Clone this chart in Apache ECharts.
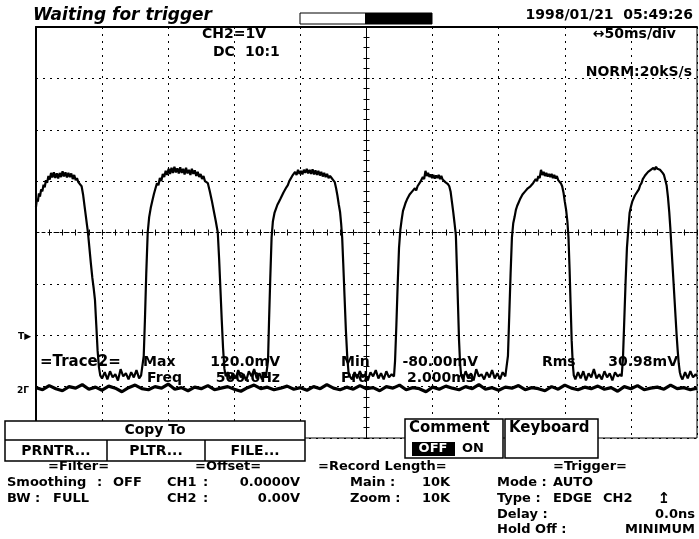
<!DOCTYPE html>
<html>
<head>
<meta charset="utf-8">
<script src="https://cdn.jsdelivr.net/npm/echarts@6/dist/echarts.min.js"></script>
<style>
html, body { margin: 0; padding: 0; background: #fff; }
#scope { width: 699px; height: 539px; }
</style>
</head>
<body>
<div id="scope"></div>
<script>
// screen: 10 div x 50 ms, 8 div x 1 V (CH2)
var timeRange = [-250, 250];
var msPerDiv = 50;
var voltRange = [-4, 4];
var voltPerDiv = 1;

// CH2 trace, [ms, div]
var ch2Trace = [
    // pulse 1 (cut at left edge)
    [-250.0, 0.50], [-249.3, 0.66], [-248.6, 0.60], [-247.8, 0.76], [-247.0, 0.70], [-246.1, 0.84], [-245.2, 0.80],
    [-244.3, 0.93], [-243.4, 0.88], [-242.5, 1.02], [-241.6, 0.97], [-240.6, 1.10], [-239.6, 1.03], [-238.6, 1.16],
    [-237.6, 1.07], [-236.5, 1.17], [-235.4, 1.06], [-234.3, 1.15], [-233.2, 1.05], [-232.1, 1.16], [-231.0, 1.08],
    [-229.9, 1.19], [-228.8, 1.09], [-227.7, 1.17], [-226.6, 1.07], [-225.5, 1.16], [-224.4, 1.08], [-223.3, 1.15],
    [-222.2, 1.04], [-221.1, 1.12], [-220.0, 1.02], [-219.0, 1.06], [-218.0, 0.98], [-216.7, 1.00], [-215.5, 0.90],
    [-214.4, 0.74], [-213.3, 0.52], [-212.2, 0.30], [-211.4, 0.14], [-210.7, 0.00], [-209.6, -0.30], [-208.5, -0.60],
    [-207.4, -0.88], [-206.3, -1.10], [-205.4, -1.31], [-204.4, -1.80], [-203.4, -2.30], [-202.4, -2.62], [-201.4, -2.78],
    [-200.0, -2.84], [-198.0, -2.72], [-196.0, -2.86], [-194.0, -2.70], [-192.0, -2.82], [-190.0, -2.76], [-188.0, -2.88],
    [-186.0, -2.66], [-184.0, -2.80], [-182.0, -2.74], [-180.0, -2.86], [-178.0, -2.72], [-176.0, -2.82], [-174.0, -2.68],
    [-172.0, -2.84], [-170.5, -2.78],
    // pulse 2
    [-169.5, -2.75], [-168.5, -2.40], [-167.6, -1.70], [-166.6, -0.80], [-165.5, 0.00], [-164.4, 0.30], [-163.2, 0.48],
    [-162.0, 0.62], [-160.8, 0.75], [-159.6, 0.86], [-158.5, 0.96], [-157.4, 0.92], [-156.3, 1.06], [-155.2, 1.00],
    [-154.1, 1.14], [-153.0, 1.08], [-151.9, 1.20], [-150.8, 1.12], [-149.7, 1.24], [-148.6, 1.14], [-147.5, 1.26],
    [-146.4, 1.16], [-145.3, 1.28], [-144.2, 1.17], [-143.1, 1.25], [-142.0, 1.15], [-140.9, 1.27], [-139.8, 1.16],
    [-138.7, 1.24], [-137.6, 1.13], [-136.5, 1.26], [-135.4, 1.15], [-134.3, 1.22], [-133.2, 1.12], [-132.1, 1.24],
    [-131.0, 1.14], [-129.9, 1.21], [-128.8, 1.10], [-127.7, 1.18], [-126.6, 1.08], [-125.5, 1.14], [-124.4, 1.04],
    [-123.3, 1.10], [-122.2, 1.00], [-121.1, 1.02], [-120.0, 0.96], [-118.5, 0.80], [-117.0, 0.62], [-115.5, 0.42],
    [-114.0, 0.22], [-112.5, 0.00], [-111.5, -0.50], [-110.5, -1.10], [-109.5, -1.70], [-108.5, -2.25], [-107.5, -2.65],
    [-106.5, -2.80], [-105.0, -2.72], [-103.0, -2.86], [-101.0, -2.74], [-99.0, -2.84], [-97.0, -2.68], [-95.0, -2.82],
    [-93.0, -2.76], [-91.0, -2.88], [-89.0, -2.70], [-87.0, -2.80], [-85.0, -2.66], [-83.0, -2.84], [-81.0, -2.74],
    [-79.0, -2.86], [-77.0, -2.72], [-76.0, -2.80],
    // pulse 3
    [-75.2, -2.78], [-74.5, -2.50], [-73.7, -1.70], [-72.8, -0.90], [-71.8, -0.10], [-70.8, 0.22], [-69.6, 0.38],
    [-68.5, 0.46], [-67.4, 0.54], [-66.2, 0.60], [-65.0, 0.66], [-63.9, 0.68], [-62.8, 0.78], [-61.7, 0.76],
    [-60.6, 0.88], [-59.5, 0.92], [-58.4, 1.00], [-57.3, 0.98], [-56.2, 1.10], [-55.1, 1.08], [-54.0, 1.18],
    [-52.9, 1.12], [-51.8, 1.22], [-50.7, 1.14], [-49.6, 1.20], [-48.5, 1.13], [-47.4, 1.22], [-46.3, 1.16],
    [-45.2, 1.24], [-44.1, 1.15], [-43.0, 1.22], [-41.9, 1.14], [-40.8, 1.23], [-39.7, 1.13], [-38.6, 1.21],
    [-37.5, 1.12], [-36.4, 1.20], [-35.3, 1.11], [-34.2, 1.18], [-33.1, 1.09], [-32.0, 1.16], [-30.9, 1.08],
    [-29.8, 1.14], [-28.7, 1.06], [-27.6, 1.10], [-26.4, 1.06], [-25.2, 1.02], [-24.0, 0.98], [-23.0, 0.86],
    [-22.0, 0.72], [-21.0, 0.55], [-20.0, 0.40], [-19.2, 0.18], [-18.4, -0.10], [-17.6, -0.60], [-16.6, -1.25],
    [-15.6, -1.90], [-14.6, -2.40], [-13.6, -2.72], [-12.6, -2.80], [-11.0, -2.86], [-9.0, -2.72], [-7.0, -2.84],
    [-5.0, -2.70], [-3.0, -2.82], [-1.0, -2.76], [1.0, -2.88], [3.0, -2.72], [5.0, -2.80], [7.0, -2.68],
    [9.0, -2.84], [11.0, -2.74], [13.0, -2.86], [15.0, -2.70], [17.0, -2.82], [19.0, -2.76],
    // pulse 4
    [20.8, -2.80], [21.6, -2.50], [22.6, -1.80], [23.6, -1.00], [24.6, -0.30], [25.6, 0.05], [26.6, 0.25],
    [27.6, 0.42], [28.6, 0.50], [29.6, 0.58], [30.6, 0.64], [31.6, 0.62], [32.6, 0.74], [33.6, 0.72],
    [34.6, 0.80], [35.6, 0.78], [36.6, 0.86], [37.6, 0.82], [38.6, 0.90], [39.6, 0.88], [40.6, 0.98],
    [41.6, 0.96], [42.6, 1.08], [43.6, 1.04], [44.6, 1.20], [45.6, 1.10], [46.6, 1.16], [47.6, 1.08],
    [48.6, 1.13], [49.6, 1.06], [50.6, 1.12], [51.6, 1.05], [52.6, 1.11], [53.6, 1.06], [54.6, 1.12],
    [55.6, 1.04], [56.6, 1.10], [57.6, 1.03], [58.6, 1.06], [59.6, 0.98], [60.6, 1.00], [61.6, 0.94],
    [62.6, 0.90], [63.6, 0.80], [64.6, 0.60], [65.6, 0.40], [66.6, 0.18], [67.6, -0.05], [68.4, -0.70],
    [69.2, -1.40], [70.0, -2.10], [70.8, -2.55], [71.6, -2.78], [73.0, -2.86], [75.0, -2.70], [77.0, -2.84],
    [79.0, -2.74], [81.0, -2.88], [83.0, -2.66], [85.0, -2.80], [87.0, -2.76], [89.0, -2.86], [91.0, -2.72],
    [93.0, -2.82], [95.0, -2.68], [97.0, -2.84], [99.0, -2.74], [101.0, -2.86], [103.0, -2.72], [105.0, -2.80],
    // pulse 5
    [106.0, -2.80], [107.0, -2.40], [108.0, -1.60], [109.0, -0.80], [110.0, -0.10], [111.0, 0.18], [112.0, 0.30],
    [113.0, 0.44], [114.0, 0.52], [115.0, 0.58], [116.0, 0.64], [117.0, 0.62], [118.0, 0.74], [119.0, 0.72],
    [120.0, 0.80], [121.0, 0.78], [122.0, 0.86], [123.0, 0.84], [124.0, 0.90], [125.0, 0.88], [126.0, 0.96],
    [127.0, 0.94], [128.0, 1.04], [129.0, 1.00], [130.0, 1.10], [131.0, 1.06], [132.0, 1.22], [133.0, 1.12],
    [134.0, 1.18], [135.0, 1.10], [136.0, 1.16], [137.0, 1.09], [138.0, 1.14], [139.0, 1.08], [140.0, 1.14],
    [141.0, 1.06], [142.0, 1.12], [143.0, 1.05], [144.0, 1.10], [145.0, 1.02], [146.0, 1.04], [147.0, 0.96],
    [148.0, 0.90], [149.0, 0.78], [150.0, 0.60], [151.0, 0.44], [152.0, 0.20], [152.8, -0.10], [153.6, -0.70],
    [154.4, -1.40], [155.2, -2.10], [156.0, -2.55], [156.8, -2.78], [158.0, -2.86], [160.0, -2.72], [162.0, -2.84],
    [164.0, -2.70], [166.0, -2.88], [168.0, -2.74], [170.0, -2.82], [172.0, -2.66], [174.0, -2.84], [176.0, -2.76],
    [178.0, -2.86], [180.0, -2.70], [182.0, -2.82], [184.0, -2.74], [186.0, -2.88], [188.0, -2.72], [190.0, -2.80],
    [192.0, -2.76],
    // pulse 6
    [193.0, -2.80], [194.0, -2.45], [195.0, -1.70], [196.0, -0.95], [197.0, -0.30], [198.0, 0.05], [199.0, 0.38],
    [200.0, 0.50], [201.0, 0.60], [202.0, 0.66], [203.0, 0.72], [204.0, 0.70], [205.0, 0.80], [206.0, 0.84],
    [207.0, 0.92], [208.0, 0.96], [209.0, 1.04], [210.0, 1.08], [211.0, 1.12], [212.0, 1.10], [213.0, 1.18],
    [214.0, 1.15], [215.0, 1.22], [216.0, 1.20], [217.0, 1.26], [218.0, 1.22], [219.0, 1.28], [220.0, 1.24],
    [221.0, 1.27], [222.0, 1.22], [223.0, 1.24], [224.0, 1.16], [225.0, 1.12], [226.0, 1.02], [227.0, 0.92],
    [228.0, 0.70], [229.0, 0.40], [229.8, 0.10], [230.6, -0.25], [231.4, -0.60], [232.2, -0.95], [233.0, -1.30],
    [233.8, -1.65], [234.6, -2.00], [235.4, -2.30], [236.2, -2.55], [237.0, -2.72], [237.8, -2.80], [239.0, -2.86],
    [241.0, -2.72], [243.0, -2.84], [245.0, -2.70], [247.0, -2.82], [249.0, -2.76], [250.0, -2.80]
];

// noisy flat trace near the CH2 ground marker, one value every 5 ms from -250 ms
var groundStep = 5;
var groundLevel = [
    -3.02, -3.06, -2.98, -3.04, -3.08, -3.00, -3.03, -2.96, -3.05, -3.01,
    -3.07, -2.99, -3.03, -3.10, -3.02, -2.97, -3.04, -3.06, -3.00, -3.03,
    -2.95, -3.05, -3.02, -3.08, -3.01, -3.04, -2.98, -3.06, -3.03, -3.00,
    -3.05, -3.09, -3.02, -2.97, -3.04, -3.01, -3.06, -3.03, -2.99, -3.05,
    -3.02, -3.07, -3.00, -3.04, -2.96, -3.03, -3.06, -3.01, -3.05, -2.98,
    -3.04, -3.02, -3.08, -3.00, -3.03, -2.97, -3.06, -3.02, -3.04, -3.10,
    -3.01, -3.05, -2.99, -3.03, -3.06, -3.00, -3.04, -2.96, -3.05, -3.02,
    -3.07, -3.01, -3.03, -2.98, -3.06, -3.02, -3.04, -3.08, -3.00, -3.05,
    -2.97, -3.03, -3.06, -3.01, -3.04, -2.99, -3.05, -3.02, -3.09, -3.00,
    -3.04, -2.98, -3.06, -3.03, -3.01, -3.05, -2.97, -3.04, -3.02, -3.06,
    -3.03
];

// on-screen readouts
var measureNames = ['Max', 'Min', 'Rms', 'Freq', 'Prd'];
var measureValues = ['120.0mV', '-80.00mV', '30.98mV', '500.0Hz', '2.000ms'];
var copyTargets = ['PRNTR...', 'PLTR...', 'FILE...'];

var groundData = groundLevel.map(function (v, i) {
    return [timeRange[0] + i * groundStep, v];
});

var F = '"DejaVu Sans", sans-serif';

function txt(s, x, y, o) {
    o = o || {};
    return {
        type: 'text',
        z: o.z || 0,
        style: {
            text: s, x: x, y: y,
            font: (o.font || 'bold 13px') + ' ' + F,
            fill: o.fill || '#000',
            textAlign: o.align || 'left',
            textVerticalAlign: 'middle'
        }
    };
}

function box(x, y, w, h, o) {
    o = o || {};
    return {
        type: 'rect', z: o.z || 10,
        shape: { x: x, y: y, width: w, height: h },
        style: { fill: o.fill || '#fff', stroke: o.stroke || '#000', lineWidth: o.lw || 1.5 }
    };
}

function seg(x1, y1, x2, y2) {
    return {
        type: 'line', z: 11,
        shape: { x1: x1, y1: y1, x2: x2, y2: y2 },
        style: { stroke: '#000', lineWidth: 1.5 }
    };
}

var dotted = { color: '#000', type: [2, 5], width: 1 };
var tick = { color: '#000', width: 1 };

// the two crossing centre axes carry the tick marks; one axis per side
function centreX(pos, showLine) {
    return {
        type: 'value', min: timeRange[0], max: timeRange[1], interval: msPerDiv, position: pos,
        axisLine: { show: showLine, onZero: true, onZeroAxisIndex: 0, lineStyle: { color: '#000', type: [3, 3], width: 1 } },
        axisTick: { show: true, length: 3, lineStyle: tick },
        minorTick: { show: true, splitNumber: 5, length: 3, lineStyle: tick },
        axisLabel: { show: false }, splitLine: { show: false }
    };
}
function centreY(pos, showLine) {
    return {
        type: 'value', min: voltRange[0], max: voltRange[1], interval: voltPerDiv, position: pos,
        axisLine: { show: showLine, onZero: true, onZeroAxisIndex: 0, lineStyle: { color: '#000', width: 1 } },
        axisTick: { show: true, length: 3, lineStyle: tick },
        minorTick: { show: true, splitNumber: 5, length: 3, lineStyle: tick },
        axisLabel: { show: false }, splitLine: { show: false }
    };
}

var rows = [467, 483, 499, 515, 530];

var graphics = [
    txt('Waiting for trigger', 33, 16, { font: 'italic bold 17px' }),
    box(300, 13, 132, 11, { z: 1, lw: 1 }),
    { type: 'rect', z: 2, shape: { x: 365, y: 13, width: 67, height: 11 }, style: { fill: '#000' } },
    txt('1998/01/21  05:49:26', 693, 15, { font: 'bold 14px', align: 'right' }),
    txt('CH2=1V', 202, 34, { font: 'bold 14px' }),
    txt('DC', 213, 52, { font: 'bold 14px' }),
    txt('10:1', 245, 52, { font: 'bold 14px' }),
    txt('\u219450ms/div', 676, 34, { font: 'bold 14px', align: 'right' }),
    txt('NORM:20kS/s', 692, 72, { font: 'bold 14px', align: 'right' }),
    // channel markers
    txt('T\u25B6', 18, 337, { font: 'bold 9px' }),
    txt('2\u0393', 17, 391, { font: 'bold 9px' }),
    // measurement readout (under the trace)
    txt('=Trace2=', 40, 362, { font: 'bold 15px' }),
    txt(measureNames[0], 143, 362, { font: 'bold 14px' }),
    txt(measureValues[0], 280, 362, { font: 'bold 14px', align: 'right' }),
    txt(measureNames[1], 341, 362, { font: 'bold 14px' }),
    txt(measureValues[1], 478, 362, { font: 'bold 14px', align: 'right' }),
    txt(measureNames[2], 542, 362, { font: 'bold 14px' }),
    txt(measureValues[2], 678, 362, { font: 'bold 14px', align: 'right' }),
    txt(measureNames[3], 147, 378, { font: 'bold 14px' }),
    txt(measureValues[3], 280, 378, { font: 'bold 14px', align: 'right' }),
    txt(measureNames[4], 341, 378, { font: 'bold 14px' }),
    txt(measureValues[4], 407, 378, { font: 'bold 14px' }),
    // Copy To panel
    box(5, 421, 300, 40),
    seg(5, 440, 305, 440), seg(107, 440, 107, 461), seg(205, 440, 205, 461),
    txt('Copy To', 155, 430.5, { font: 'bold 14px', align: 'center', z: 12 }),
    txt(copyTargets[0], 56, 451, { font: 'bold 14px', align: 'center', z: 12 }),
    txt(copyTargets[1], 156, 451, { font: 'bold 14px', align: 'center', z: 12 }),
    txt(copyTargets[2], 255, 451, { font: 'bold 14px', align: 'center', z: 12 }),
    // Comment / Keyboard panels
    box(405, 419, 98, 39),
    txt('Comment', 409, 428, { font: 'bold 15px', z: 12 }),
    { type: 'rect', z: 11, shape: { x: 412, y: 442, width: 43, height: 14 }, style: { fill: '#000' } },
    txt('OFF', 433, 449, { align: 'center', fill: '#fff', z: 12 }),
    txt('ON', 462, 449, { z: 12 }),
    box(505, 419, 93, 39),
    txt('Keyboard', 509, 428, { font: 'bold 15px', z: 12 }),
    // settings text
    txt('=Filter=', 48, rows[0]), txt('=Offset=', 195, rows[0]),
    txt('=Record Length=', 318, rows[0]), txt('=Trigger=', 553, rows[0]),
    txt('Smoothing', 7, rows[1]), txt(':', 97, rows[1]), txt('OFF', 113, rows[1]),
    txt('CH1', 167, rows[1]), txt(':', 203, rows[1]), txt('0.0000V', 300, rows[1], { align: 'right' }),
    txt('Main :', 350, rows[1]), txt('10K', 422, rows[1]),
    txt('Mode :', 497, rows[1]), txt('AUTO', 553, rows[1]),
    txt('BW', 7, rows[2]), txt(':', 35, rows[2]), txt('FULL', 53, rows[2]),
    txt('CH2', 167, rows[2]), txt(':', 203, rows[2]), txt('0.00V', 300, rows[2], { align: 'right' }),
    txt('Zoom :', 350, rows[2]), txt('10K', 422, rows[2]),
    txt('Type :', 497, rows[2]), txt('EDGE', 553, rows[2]), txt('CH2', 603, rows[2]),
    txt('\u21A5', 664, rows[2], { font: 'bold 15px', align: 'center' }),
    txt('Delay :', 497, rows[3]), txt('0.0ns', 695, rows[3], { align: 'right' }),
    txt('Hold Off :', 497, rows[4]), txt('MINIMUM', 695, rows[4], { align: 'right' })
];

var myChart = echarts.init(document.getElementById('scope'));

var option = {
    backgroundColor: '#fff',
    animation: false,
    grid: {
        left: 36, right: 2, top: 27, bottom: 101,
        show: true, borderColor: '#000', borderWidth: 1
    },
    xAxis: [
        {
            type: 'value', min: timeRange[0], max: timeRange[1], interval: msPerDiv, position: 'top',
            axisLine: { show: true, onZero: false, lineStyle: { color: '#000', width: 2 } },
            axisTick: { show: false }, axisLabel: { show: false },
            splitLine: { show: true, lineStyle: dotted }
        },
        centreX('bottom', true),
        centreX('top', false)
    ],
    yAxis: [
        {
            type: 'value', min: voltRange[0], max: voltRange[1], interval: voltPerDiv, position: 'left',
            axisLine: { show: true, onZero: false, lineStyle: { color: '#000', width: 2 } },
            axisTick: { show: false }, axisLabel: { show: false },
            splitLine: { show: true, lineStyle: dotted }
        },
        centreY('left', true),
        centreY('right', false)
    ],
    graphic: graphics,
    series: [
        {
            name: 'GND', type: 'line', data: groundData,
            symbol: 'none', lineStyle: { color: '#000', width: 3.2 }, z: 3
        },
        {
            name: 'CH2', type: 'line', data: ch2Trace,
            symbol: 'none', lineStyle: { color: '#000', width: 2.2 }, z: 4
        }
    ]
};

myChart.setOption(option);
</script>
</body>
</html>
